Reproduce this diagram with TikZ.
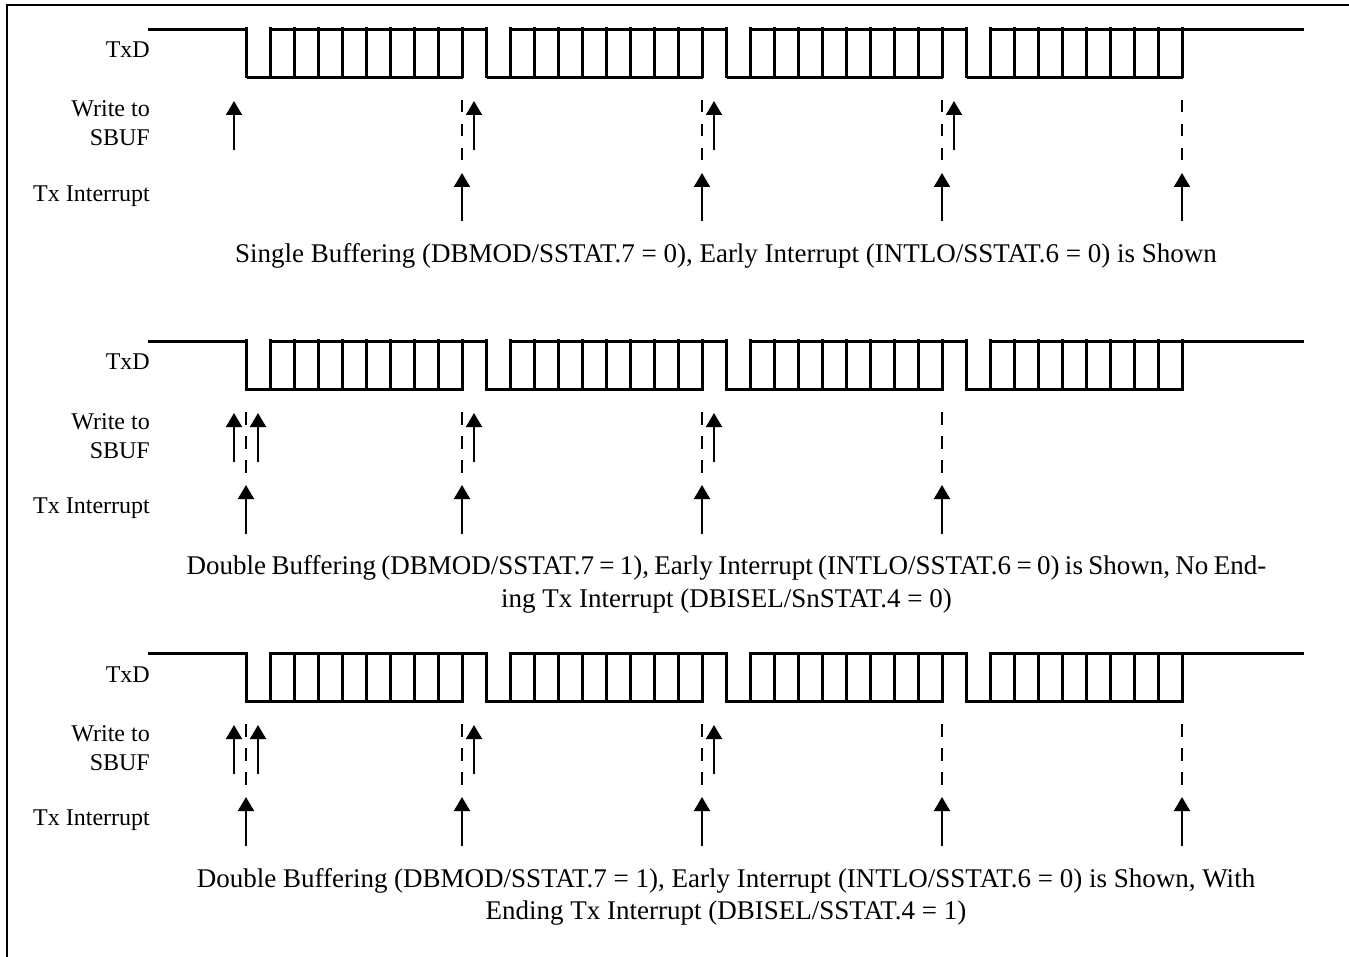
\documentclass[tikz,border=0pt]{standalone}
\usepackage{fontspec}
\setmainfont{Liberation Serif}
\usetikzlibrary{arrows.meta}

\tikzset{
	signal/.style={line width=2.8pt},
	trigger/.style={line width=1.9pt, -{Triangle[width=16pt,length=14pt]}},
	guide/.style={line width=1.9pt, dash pattern=on 12.5pt off 11.5pt},
	rowlabel/.style={anchor=base east, align=right, inner sep=0pt, font=\fontsize{24}{29}\selectfont},
	caption/.style={anchor=base, align=center, inner sep=0pt, font=\fontsize{27}{32.5}\selectfont}
}

% one TxD line with its row labels, drawn from the top of the section
\newcommand{\txdrow}{
	\draw[signal] (148,29.5) -- (246.5,29.5) (270.5,29.5) -- (486.5,29.5) (510.5,29.5) -- (726.5,29.5)
		(750.5,29.5) -- (966.5,29.5) (990.5,29.5) -- (1304,29.5);
	\foreach \start in {246.5,486.5,726.5,966.5} {
		\draw[signal] (\start,77.3) -- +(216,0);
		\foreach \bit in {0,...,9}
			\draw[signal] (\start+24*\bit,27.5) -- (\start+24*\bit,78.5);
	}
	\node[rowlabel] (txd) at (150,58) {TxD};
	\node[rowlabel] (write) at (150,146) {Write to\\SBUF};
	\node[rowlabel] (tx) at (150,201.5) {Tx Interrupt};
}

\begin{document}
\begin{tikzpicture}[x=1pt,y=-1pt]
	\useasboundingbox (0,0) rectangle (1349,957);
	\draw[line width=2pt] (7,957) -- (7,5.5) -- (1349,5.5);

	\begin{scope}
		\txdrow
		\foreach \pos in {234,474,714,954}
			\draw[trigger] (\pos,150) -- (\pos,101);
		\foreach \pos in {462,702,942,1182} {
			\draw[guide] (\pos,100) -- (\pos,162);
			\draw[trigger] (\pos,221.5) -- (\pos,173);
		}
		\node[caption] (single) at (726,263) {Single Buffering (DBMOD/SSTAT.7 = 0), Early Interrupt (INTLO/SSTAT.6 = 0) is Shown};
	\end{scope}

	\begin{scope}[yshift=-312pt]
		\txdrow
		\foreach \pos in {234,258,474,714}
			\draw[trigger] (\pos,150) -- (\pos,101);
		\foreach \pos in {246,462,702,942} {
			\draw[guide] (\pos,100) -- (\pos,162);
			\draw[trigger] (\pos,221.5) -- (\pos,173);
		}
		\node[caption] (nending) at (726.5,295) {{\spaceskip=5.35pt Double Buffering (DBMOD/SSTAT.7 = 1), Early Interrupt (INTLO/SSTAT.6 = 0) is Shown, No End-}\\ing Tx Interrupt (DBISEL/SnSTAT.4 = 0)};
	\end{scope}

	\begin{scope}[yshift=-624pt]
		\txdrow
		\foreach \pos in {234,258,474,714}
			\draw[trigger] (\pos,150) -- (\pos,101);
		\foreach \pos in {246,462,702,942,1182} {
			\draw[guide] (\pos,100) -- (\pos,162);
			\draw[trigger] (\pos,221.5) -- (\pos,173);
		}
		\node[caption] (wending) at (726,295.5) {Double Buffering (DBMOD/SSTAT.7 = 1), Early Interrupt (INTLO/SSTAT.6 = 0) is Shown, With\\Ending Tx Interrupt (DBISEL/SSTAT.4 = 1)};
	\end{scope}
\end{tikzpicture}
\end{document}
